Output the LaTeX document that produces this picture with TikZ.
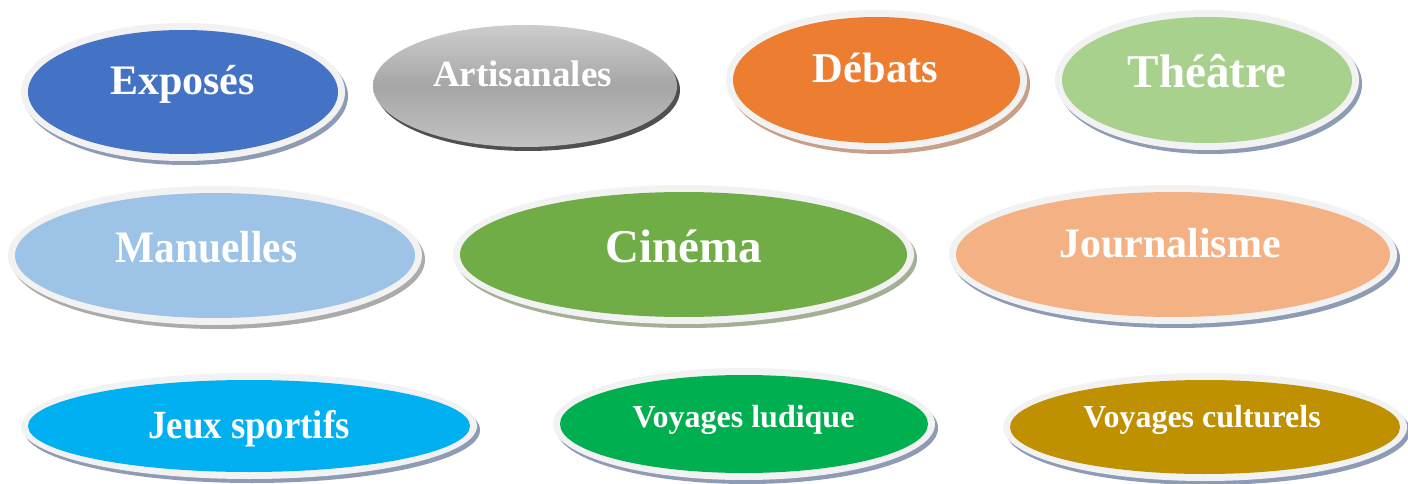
\documentclass[tikz,border=0pt]{standalone}
\usepackage{fontspec}
\setmainfont{Liberation Serif}
\usetikzlibrary{shapes.geometric}
\definecolor{ringc}{HTML}{F2F2F2}
\definecolor{shblue}{HTML}{8E9BB5}
\definecolor{shbrown}{HTML}{C8A088}
\definecolor{shgreen}{HTML}{A3B095}
\definecolor{shgray}{HTML}{ABABAB}
\definecolor{shdark}{HTML}{505050}
\definecolor{cExp}{HTML}{4472C4}
\definecolor{cDeb}{HTML}{ED7D31}
\definecolor{cThe}{HTML}{A9D18E}
\definecolor{cMan}{HTML}{9DC3E6}
\definecolor{cCin}{HTML}{70AD47}
\definecolor{cJou}{HTML}{F4B183}
\definecolor{cJeu}{HTML}{00B0F0}
\definecolor{cVlu}{HTML}{00B050}
\definecolor{cVcu}{HTML}{BF9000}
\definecolor{gLight}{HTML}{CDCDCD}
\definecolor{gMid}{HTML}{A6A6A6}
\tikzset{
  ell/.style={ellipse, draw=none, inner sep=0pt, outer sep=0pt},
  lbl/.style={anchor=base, text=white, inner sep=0pt, font=\bfseries},
}
\newcommand\bubble[7]{%
  \node[ell, fill=#7, minimum width={2*(#4+7)}, minimum height={2*(#5+7)}] (#1-s) at ({#2+3},{#3+4}) {};
  \node[ell, fill=ringc, minimum width={2*(#4+7)}, minimum height={2*(#5+7)}] (#1-r) at (#2,#3) {};
  \node[ell, fill=#6, minimum width={2*#4}, minimum height={2*#5}] (#1) at (#2,#3) {};
}
\begin{document}
\begin{tikzpicture}[x=1pt,y=-1pt]
\useasboundingbox (0,0) rectangle (1408,484);
\fill[white] (0,0) rectangle (1408,484);
% row 1
\bubble{exp}{183}{92}{155}{62}{cExp}{shblue}
\node[ell, fill=shdark, minimum width=304, minimum height=122] (art-s) at (528,90) {};
\node[ell, top color=gLight, bottom color=gLight!95!black, middle color=gMid, minimum width=304, minimum height=122] (art) at (525,86) {};
\bubble{deb}{876.5}{80}{143.5}{63}{cDeb}{shbrown}
\bubble{the}{1207}{80}{145}{63}{cThe}{shblue}
% row 2
\bubble{man}{215}{255.5}{200}{62.5}{cMan}{shgray}
\bubble{cin}{683.5}{254.5}{223.5}{62.5}{cCin}{shgreen}
\bubble{jou}{1173}{254.5}{217}{62.5}{cJou}{shblue}
% row 3
\bubble{jeu}{249}{426}{221}{46}{cJeu}{shblue}
\bubble{vlu}{744}{424}{184}{49}{cVlu}{shblue}
\bubble{vcu}{1205}{427}{195}{47}{cVcu}{shblue}
% labels
\node[lbl] (t-exp) at (182.5,95) {\fontsize{42}{48}\selectfont Exposés};
\node[lbl] (t-art) at (522.5,87) {\fontsize{37}{44}\selectfont Artisanales};
\node[lbl] (t-deb) at (875.5,83) {\fontsize{42.5}{48}\selectfont Débats};
\node[lbl] (t-the) at (1207,88) {\fontsize{47}{54}\selectfont Théâtre};
\node[lbl, xscale=0.92] (t-man) at (206.5,262) {\fontsize{45}{52}\selectfont Manuelles};
\node[lbl] (t-cin) at (683.5,262) {\fontsize{47}{54}\selectfont Cinéma};
\node[lbl] (t-jou) at (1170,257) {\fontsize{42}{48}\selectfont Journalisme};
\node[lbl, xscale=0.92] (t-jeu) at (249,438) {\fontsize{40}{46}\selectfont Jeux sportifs};
\node[lbl] (t-vlu) at (743.5,427) {\fontsize{32}{38}\selectfont Voyages ludique};
\node[lbl] (t-vcu) at (1202,427) {\fontsize{32}{38}\selectfont Voyages culturels};
\end{tikzpicture}
\end{document}
